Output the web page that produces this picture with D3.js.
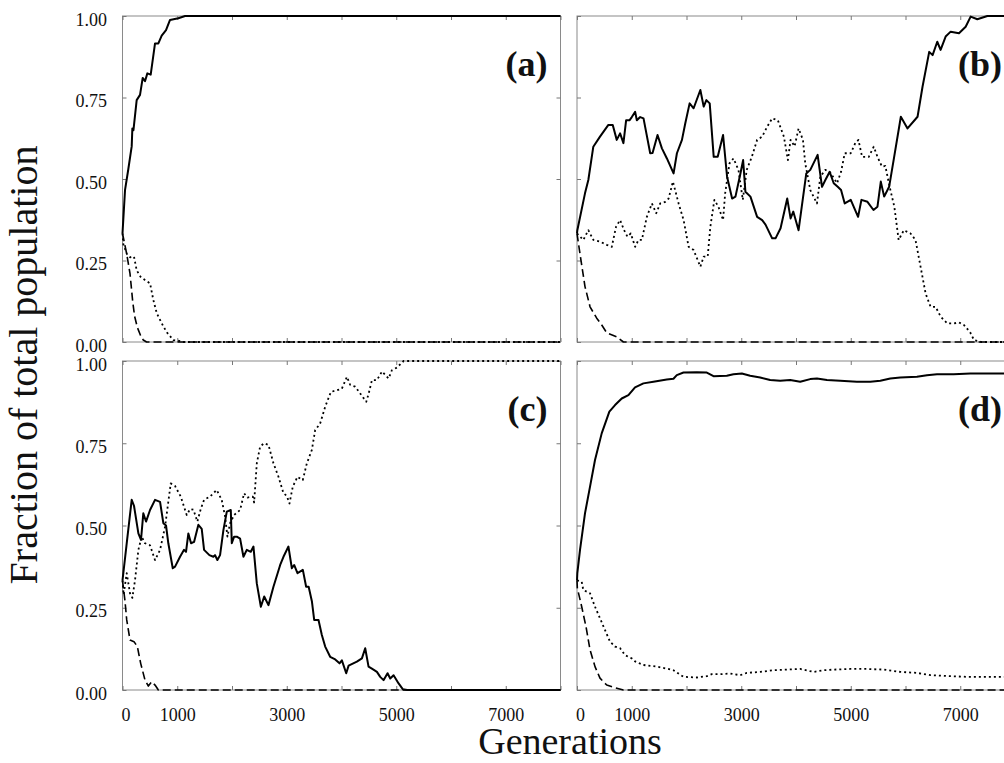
<!DOCTYPE html>
<html>
<head>
<meta charset="utf-8">
<script src="https://cdn.jsdelivr.net/npm/d3@7"></script>
<style>
  body { margin: 0; background: #fff; }
  svg { display: block; font-family: "Liberation Serif", "Times New Roman", serif; }
</style>
</head>
<body>
<svg width="1004" height="763"></svg>
<script>
// data: [generation, fraction]
let aSolid = [[0,0.333],[46,0.466],[106,0.53],[168,0.60],[180,0.655],[200,0.65],[259,0.742],[320,0.758],[369,0.81],[411,0.80],[454,0.824],[515,0.82],[594,0.916],[655,0.916],[716,0.94],[795,0.957],[868,0.988],[1020,0.993],[1143,1.0],[8000,1.0]];
let aDotted = [[0,0.333],[15,0.30],[80,0.27],[137,0.26],[210,0.262],[259,0.22],[330,0.20],[411,0.19],[503,0.18],[563,0.129],[625,0.089],[655,0.078],[740,0.05],[808,0.03],[929,0.006],[1051,0.003],[1100,0],[8000,0]];
let aDashed = [[0,0.333],[40,0.30],[77,0.27],[137,0.21],[186,0.125],[220,0.08],[271,0.045],[330,0.02],[380,0.006],[440,0],[8000,0]];

let bSolid = [[0,0.333],[6,0.343],[146,0.456],[207,0.497],[298,0.599],[420,0.63],[573,0.666],[653,0.666],[726,0.62],[787,0.64],[848,0.61],[897,0.68],[958,0.68],[1001,0.69],[1062,0.706],[1093,0.68],[1154,0.69],[1215,0.686],[1337,0.579],[1380,0.58],[1471,0.635],[1551,0.594],[1642,0.563],[1764,0.517],[1825,0.579],[1917,0.62],[1978,0.671],[2057,0.732],[2130,0.717],[2253,0.773],[2314,0.722],[2363,0.742],[2424,0.732],[2497,0.568],[2570,0.568],[2668,0.635],[2741,0.507],[2833,0.44],[2894,0.446],[2985,0.517],[3034,0.558],[3076,0.461],[3168,0.446],[3290,0.384],[3382,0.374],[3443,0.36],[3565,0.318],[3626,0.318],[3718,0.349],[3840,0.44],[3901,0.379],[3950,0.40],[4047,0.343],[4188,0.517],[4261,0.528],[4395,0.574],[4475,0.476],[4536,0.497],[4615,0.522],[4689,0.487],[4762,0.476],[4823,0.466],[4890,0.425],[5000,0.436],[5134,0.384],[5195,0.436],[5305,0.43],[5415,0.405],[5488,0.415],[5549,0.492],[5610,0.446],[5701,0.476],[5793,0.568],[5915,0.691],[6037,0.655],[6220,0.691],[6311,0.783],[6433,0.89],[6495,0.88],[6580,0.921],[6641,0.896],[6733,0.937],[6825,0.952],[6977,0.947],[7099,0.967],[7190,0.998],[7312,0.99],[7495,1.0],[8000,1.0]];
let bDotted = [[0,0.333],[116,0.313],[207,0.343],[298,0.313],[420,0.308],[543,0.298],[635,0.292],[714,0.354],[787,0.374],[860,0.343],[921,0.323],[982,0.333],[1062,0.292],[1123,0.313],[1184,0.313],[1276,0.384],[1368,0.425],[1447,0.395],[1520,0.425],[1612,0.43],[1673,0.44],[1752,0.492],[1856,0.425],[1947,0.374],[2039,0.292],[2130,0.282],[2253,0.231],[2314,0.262],[2387,0.262],[2436,0.354],[2509,0.436],[2583,0.415],[2668,0.374],[2706,0.456],[2785,0.548],[2858,0.563],[2949,0.528],[3028,0.436],[3100,0.528],[3193,0.568],[3290,0.62],[3382,0.63],[3473,0.66],[3565,0.686],[3669,0.68],[3779,0.63],[3852,0.558],[3901,0.62],[3974,0.60],[4047,0.655],[4127,0.62],[4169,0.548],[4261,0.466],[4383,0.425],[4444,0.507],[4536,0.528],[4627,0.52],[4750,0.487],[4823,0.522],[4890,0.579],[5000,0.579],[5082,0.61],[5140,0.62],[5207,0.568],[5329,0.568],[5420,0.599],[5488,0.568],[5570,0.538],[5632,0.54],[5710,0.476],[5796,0.415],[5875,0.313],[5970,0.343],[6092,0.333],[6183,0.313],[6275,0.231],[6367,0.149],[6458,0.108],[6550,0.108],[6641,0.078],[6763,0.057],[6885,0.057],[6977,0.06],[7068,0.052],[7180,0.03],[7251,0.006],[7380,0],[8000,0]];
let bDashed = [[0,0.333],[55,0.27],[146,0.17],[238,0.108],[360,0.073],[452,0.052],[543,0.028],[726,0.016],[848,0],[8000,0]];

let cSolid = [[0,0.333],[77,0.446],[168,0.578],[210,0.56],[290,0.476],[338,0.456],[380,0.537],[430,0.512],[503,0.547],[594,0.578],[686,0.572],[746,0.507],[795,0.50],[837,0.446],[918,0.37],[960,0.375],[1051,0.405],[1124,0.426],[1160,0.42],[1203,0.476],[1252,0.446],[1307,0.45],[1386,0.502],[1447,0.49],[1490,0.426],[1587,0.41],[1660,0.405],[1690,0.41],[1733,0.395],[1782,0.41],[1843,0.486],[1905,0.542],[1978,0.547],[1996,0.446],[2039,0.466],[2087,0.466],[2148,0.46],[2209,0.405],[2270,0.426],[2343,0.42],[2392,0.436],[2453,0.324],[2527,0.253],[2588,0.284],[2666,0.258],[2757,0.314],[2880,0.38],[2940,0.405],[3031,0.436],[3093,0.37],[3135,0.38],[3196,0.355],[3294,0.365],[3354,0.314],[3400,0.314],[3459,0.27],[3501,0.213],[3580,0.213],[3641,0.167],[3702,0.132],[3793,0.101],[3885,0.093],[3964,0.081],[4007,0.09],[4086,0.051],[4130,0.074],[4281,0.086],[4373,0.096],[4433,0.127],[4494,0.071],[4555,0.065],[4647,0.055],[4707,0.04],[4768,0.03],[4841,0.051],[4890,0.035],[4951,0.045],[5043,0.02],[5122,0.002],[5200,0],[8000,0]];
let cDotted = [[0,0.333],[20,0.29],[77,0.355],[137,0.294],[180,0.28],[229,0.334],[290,0.426],[350,0.466],[411,0.446],[503,0.44],[594,0.395],[686,0.426],[777,0.496],[881,0.628],[960,0.62],[1064,0.588],[1173,0.532],[1234,0.55],[1295,0.548],[1368,0.512],[1429,0.55],[1490,0.578],[1600,0.588],[1721,0.608],[1812,0.578],[1874,0.527],[1917,0.466],[1965,0.507],[2039,0.532],[2148,0.547],[2221,0.598],[2282,0.585],[2380,0.588],[2404,0.57],[2453,0.689],[2514,0.74],[2587,0.75],[2666,0.745],[2757,0.689],[2849,0.648],[2940,0.598],[3001,0.59],[3050,0.567],[3110,0.618],[3196,0.648],[3293,0.638],[3367,0.689],[3459,0.73],[3519,0.79],[3610,0.81],[3702,0.861],[3806,0.906],[3915,0.911],[4007,0.916],[4099,0.952],[4160,0.927],[4251,0.922],[4452,0.876],[4495,0.90],[4556,0.942],[4647,0.942],[4739,0.968],[4860,0.947],[4921,0.972],[5012,0.98],[5134,1.0],[8000,1.0]];
let cDashed = [[0,0.333],[46,0.27],[77,0.213],[137,0.152],[210,0.147],[271,0.132],[332,0.081],[411,0.03],[472,0.012],[533,0.025],[594,0.015],[655,0],[8000,0]];

let dSolid = [[0,0.333],[6,0.355],[55,0.426],[146,0.537],[238,0.618],[329,0.699],[451,0.78],[591,0.846],[695,0.866],[817,0.886],[939,0.896],[1060,0.92],[1213,0.932],[1396,0.937],[1640,0.944],[1762,0.946],[1823,0.957],[1945,0.965],[2188,0.966],[2371,0.965],[2493,0.954],[2736,0.955],[2858,0.96],[3011,0.962],[3163,0.955],[3346,0.95],[3528,0.942],[3711,0.94],[3894,0.942],[4077,0.937],[4260,0.945],[4382,0.947],[4565,0.942],[4808,0.94],[5113,0.937],[5357,0.937],[5540,0.94],[5722,0.947],[5905,0.95],[6209,0.952],[6392,0.957],[6575,0.96],[6880,0.96],[7185,0.962],[8000,0.962]];
let dDotted = [[0,0.333],[86,0.329],[115,0.304],[238,0.294],[329,0.253],[420,0.218],[512,0.182],[603,0.147],[695,0.132],[787,0.127],[878,0.106],[1000,0.096],[1060,0.087],[1212,0.076],[1456,0.071],[1639,0.065],[1761,0.06],[1944,0.04],[2188,0.038],[2371,0.042],[2462,0.048],[2615,0.048],[2797,0.05],[2980,0.045],[3102,0.052],[3346,0.055],[3590,0.06],[3834,0.062],[4078,0.064],[4322,0.055],[4505,0.06],[4688,0.062],[4992,0.064],[5297,0.064],[5601,0.062],[5906,0.055],[6210,0.052],[6454,0.045],[6820,0.042],[7124,0.04],[8000,0.04]];
let dDashed = [[0,0.333],[6,0.31],[86,0.253],[165,0.192],[238,0.122],[329,0.071],[420,0.036],[543,0.015],[695,0.007],[848,0],[8000,0]];

let xTicks = [0,1000,2000,3000,4000,5000,6000,7000,8000];
let xLabels = [0,1000,3000,5000,7000];
let yTicks = [0,0.25,0.5,0.75,1];
let panelNames = ["(a)","(b)","(c)","(d)"];

let svg = d3.select("svg");

// panel layout
let panels = [
  {name: panelNames[0], x0: 122.5, y0: 342, y1: 16,  series: [aSolid, aDotted, aDashed], left: true,  bottom: false},
  {name: panelNames[1], x0: 577,   y0: 342, y1: 16,  series: [bSolid, bDotted, bDashed], left: false, bottom: false},
  {name: panelNames[2], x0: 122.5, y0: 690, y1: 361, series: [cSolid, cDotted, cDashed], left: true,  bottom: true},
  {name: panelNames[3], x0: 577,   y0: 690, y1: 361, series: [dSolid, dDotted, dDashed], left: false, bottom: true}
];

let styles = [
  {w: 2,   dash: null},
  {w: 1.8, dash: "2,3"},
  {w: 1.6, dash: "8,4"}
];

panels.forEach(p => {
  let x = d3.scaleLinear().domain([0, 8000]).range([p.x0, p.x0 + 438]);
  let y = d3.scaleLinear().domain([0, 1]).range([p.y0, p.y1]);
  let g = svg.append("g");

  // frame
  g.append("rect")
    .attr("x", x(0)).attr("y", y(1))
    .attr("width", x(8000) - x(0)).attr("height", y(0) - y(1))
    .attr("fill", "none").attr("stroke", "#8a8a8a").attr("stroke-width", 1);

  // bottom axis
  let xb = g.append("g").attr("transform", `translate(0,${y(0)})`)
    .call(d3.axisBottom(x).tickValues(xTicks).tickSize(-4).tickPadding(18)
      .tickFormat(d => (p.bottom && xLabels.includes(d)) ? d : ""));
  // top ticks
  let xt = g.append("g").attr("transform", `translate(0,${y(1)})`)
    .call(d3.axisTop(x).tickValues(xTicks).tickSize(-4).tickFormat(""));
  // left axis
  let yl = g.append("g").attr("transform", `translate(${x(0)},0)`)
    .call(d3.axisLeft(y).tickValues(yTicks).tickSize(-4).tickPadding(15.5)
      .tickFormat(d => p.left ? d3.format(".2f")(d) : ""));
  let yr = g.append("g").attr("transform", `translate(${x(8000)},0)`)
    .call(d3.axisRight(y).tickValues(yTicks).tickSize(-4).tickFormat(""));

  [xb, xt, yl, yr].forEach(a => {
    a.select(".domain").remove();
    a.selectAll(".tick line").attr("stroke", "#777");
    a.selectAll("text").attr("font-family", "Liberation Serif").attr("font-size", 18).attr("fill", "#111");
  });
  yl.selectAll("text").attr("dy", "0.5em");
  xb.selectAll(".tick").filter(d => d === 0).select("text").attr("dx", 3);

  // series lines
  let line = d3.line().x(d => x(d[0])).y(d => y(d[1]));
  p.series.forEach((s, i) => {
    g.append("path").datum(s)
      .attr("d", line)
      .attr("fill", "none")
      .attr("stroke", "#000")
      .attr("stroke-width", styles[i].w)
      .attr("stroke-linejoin", "round")
      .attr("stroke-dasharray", styles[i].dash);
  });

  // panel label
  g.append("text")
    .attr("x", x(8000) - 13).attr("y", y(1) + 59.5)
    .attr("text-anchor", "end")
    .attr("font-size", 36).attr("font-weight", "bold")
    .attr("fill", "#111")
    .text(p.name);
});

// axis titles
svg.append("text")
  .attr("transform", "translate(37,365) rotate(-90)")
  .attr("text-anchor", "middle")
  .attr("font-size", 40).attr("fill", "#111")
  .text("Fraction of total population");

svg.append("text")
  .attr("x", 570).attr("y", 754)
  .attr("text-anchor", "middle")
  .attr("font-size", 38).attr("fill", "#111")
  .text("Generations");
</script>
</body>
</html>
